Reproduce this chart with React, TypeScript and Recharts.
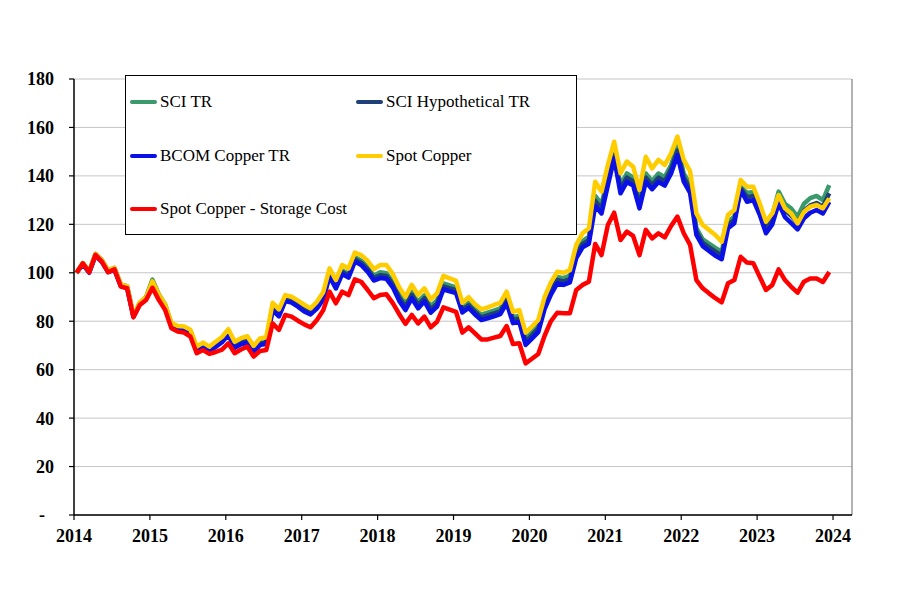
import React from 'react';
import { LineChart, Line, XAxis, YAxis, CartesianGrid, Legend, ReferenceLine } from 'recharts';

const startYear = 2014;
const yearTicks = [2014, 2015, 2016, 2017, 2018, 2019, 2020, 2021, 2022, 2023, 2024];
const valueTicks = [0, 20, 40, 60, 80, 100, 120, 140, 160, 180];

const seriesNames = ['SCI TR', 'SCI Hypothetical TR', 'BCOM Copper TR', 'Spot Copper', 'Spot Copper - Storage Cost'];
const seriesColors = ['#3a9a6c', '#1f3f78', '#0a10e6', '#ffcc00', '#ff0000'];

const spotCopper = [
  100, 104, 100.5, 107.8, 105.2, 101, 102, 95.2, 94.5, 82.5, 87.8, 90,
  96.5, 91, 87, 79.3, 78, 77.8, 76.5, 69.5, 71.2, 69.5, 71.5, 73.5,
  76.7, 71.5, 73, 73.8, 69.8, 72.9, 73.4, 87.6, 84.9, 90.8, 90.1, 88.5,
  86.8, 85.3, 88, 92, 101.8, 97, 103.2, 101.8, 108.3, 107.3, 105, 101.5,
  103.2, 103.2, 99.5, 94, 90.1, 95, 90.8, 93.6, 89, 91.5, 98.7, 97.7,
  96.7, 87.6, 89.9, 87, 84.9, 85.7, 86.7, 87.6, 92.2, 83.9, 84.6, 75.3,
  77.8, 80.5, 90, 96, 100.4, 100, 101.1, 111.5, 116.3, 118.4, 137.6, 133.5,
  144.5, 154.1, 141.1, 145.9, 143.8, 134.2, 147.9, 143.1, 146.6, 144.5, 149.3, 156.2,
  146.6, 142, 124.5, 119.7, 117.7, 115.6, 112.8, 123.9, 125.9, 138.3, 135.5, 135.5,
  128.7, 121.1, 124.5, 132.1, 126.6, 124.5, 120.4, 125.2, 127.3, 128, 126.6, 130.7,
];

const spotStorage = [
  100, 103.9, 100.2, 107.4, 104.6, 100.2, 101.4, 94.3, 93.6, 81.6, 86.7, 88.8,
  93.8, 88.8, 84.7, 77.1, 75.7, 75.3, 73.7, 66.8, 68.1, 66.5, 67.3, 68.3,
  70.9, 66.8, 68.3, 69.5, 65.4, 67.7, 68.1, 79.1, 76.4, 82.6, 81.9, 80.2,
  78.7, 77.5, 80.5, 84.5, 92.2, 87.4, 92.2, 90.8, 97.3, 96.3, 93, 89.5,
  90.8, 91.1, 87.5, 83, 78.9, 82.6, 79.1, 81.9, 77.5, 79.8, 85.7, 84.8,
  83.9, 75.3, 77.5, 75, 72.5, 72.5, 73.2, 73.9, 78, 70.6, 70.9, 62.6,
  64.5, 66.5, 74, 80, 83.5, 83.3, 83.3, 92.9, 95, 96.3, 111.9, 107.3,
  119.7, 124.8, 113.5, 117, 115.2, 107.3, 117.7, 114.2, 116.3, 114.6, 119.3, 123.2,
  116.3, 111.5, 97, 93.6, 91.5, 89.5, 87.8, 95.7, 97, 106.6, 104.2, 103.9,
  98.4, 92.9, 95, 101.4, 97, 94.2, 91.8, 96.3, 97.6, 97.6, 96.2, 100.3,
];

const bcomCopper = [
  100, 103.5, 100, 107, 104.5, 100.3, 101.2, 94.5, 93.7, 81.8, 87, 89.2,
  95.3, 89.8, 85.7, 78, 76.6, 76.3, 74.8, 67.8, 69.3, 67.6, 69.4, 71.3,
  74.3, 69, 70.5, 71.2, 67.2, 70.2, 70.7, 84.5, 82, 88.3, 87.7, 86,
  84, 82.8, 85.2, 89, 98.5, 93.5, 99.5, 98, 104.6, 103.2, 100.5, 96.8,
  97.8, 97.5, 94, 88.5, 84.6, 89.5, 85.3, 88.2, 83.5, 86, 93.2, 92.3,
  91.6, 83.6, 85.5, 82.8, 80.5, 81.2, 82, 82.9, 87.5, 79.2, 79.7, 70.2,
  72.8, 75.5, 85, 91, 95.6, 95, 96, 106, 110.5, 112, 127.6, 124.5,
  136, 147.3, 132.8, 137.5, 136, 126.6, 137.6, 134.5, 137.5, 136, 141, 148.6,
  137.6, 133, 115.6, 111, 109, 107, 105.6, 118.4, 120.5, 134.2, 129.3, 130,
  124, 116.3, 120, 128.7, 123, 120.5, 117.9, 122.5, 124.8, 125.9, 124.5, 129.3,
];

const sciTR = [
  100, 104, 100.5, 107.8, 105.3, 101, 102, 95.2, 94.5, 82.3, 87.6, 90,
  97.2, 91.2, 87, 79, 77.6, 77.2, 76, 69, 70.6, 69, 70.8, 72.6,
  75.6, 70.3, 71.8, 72.5, 68.6, 71.6, 72, 86, 83.4, 89.4, 88.8, 87.1,
  85.2, 83.8, 86.3, 90.3, 99.9, 95, 101, 99.5, 106.5, 105, 102.4, 98.8,
  100.2, 99.8, 96.3, 91, 87.4, 92.2, 88, 90.7, 86.2, 88.6, 95.6, 94.8,
  94, 85.6, 87.6, 84.8, 82.7, 83.5, 84.4, 85.3, 89.8, 81.6, 82.3, 73,
  75.6, 78.4, 87.8, 93.8, 98.3, 97.8, 98.8, 108.7, 113, 115, 131.7, 128.3,
  139.5, 150, 136.2, 141, 139.3, 129.3, 141, 137.8, 141, 139.5, 144.5, 152.3,
  141, 136.5, 118.4, 113.8, 112, 110.3, 108.7, 121, 123.3, 135.5, 133, 133.3,
  127.5, 119.7, 123.5, 133.5, 128.5, 126.5, 123.1, 128.5, 130.8, 131.7, 130, 136.2,
];

const sciHypo = [
  100, 103.8, 100.3, 107.4, 104.9, 100.7, 101.6, 94.9, 94.1, 82, 87.3, 89.6,
  96.3, 90.5, 86.4, 78.5, 77.1, 76.8, 75.4, 68.4, 70, 68.3, 70.1, 72,
  75, 69.7, 71.2, 71.9, 67.9, 70.9, 71.4, 85.3, 82.7, 88.9, 88.3, 86.6,
  84.6, 83.3, 85.8, 89.7, 99.2, 94.3, 100.3, 98.8, 105.6, 104.1, 101.5, 97.8,
  99, 98.7, 95.2, 89.8, 86, 90.9, 86.7, 89.5, 84.9, 87.3, 94.4, 93.6,
  92.8, 84.6, 86.6, 83.8, 81.6, 82.4, 83.2, 84.1, 88.7, 80.4, 81, 71.6,
  74.2, 77, 86.4, 92.4, 97, 96.4, 97.4, 107.4, 111.8, 113.5, 129.7, 126.4,
  137.8, 148.7, 134.5, 139.3, 137.7, 128, 139.3, 136.2, 139.3, 137.8, 142.8, 150.5,
  139.3, 134.8, 117, 112.4, 110.5, 108.7, 107.2, 119.7, 121.9, 134.9, 131.2, 131.7,
  125.8, 118, 121.8, 131.1, 125.8, 123.5, 120.5, 125.5, 127.8, 128.8, 127.3, 132.8,
];

const data = spotCopper.map((_, i) => ({
  t: startYear + (i + 0.4) / 12,
  sci: sciTR[i],
  hypo: sciHypo[i],
  bcom: bcomCopper[i],
  spot: spotCopper[i],
  storage: spotStorage[i],
}));

const keys = ['sci', 'hypo', 'bcom', 'spot', 'storage'];
const FONT = '"Liberation Serif", "Times New Roman", serif';

const YTick = (props: any) => {
  const { x, y, payload } = props;
  const zero = payload.value === 0;
  return (
    <text x={zero ? x - 9 : x} y={y} dy="0.355em" textAnchor="end" fontFamily={FONT} fontWeight="bold" fontSize={18} fill="#000">
      {zero ? '-' : String(payload.value)}
    </text>
  );
};

const XTick = (props: any) => {
  const { x, y, payload } = props;
  return (
    <text x={x} y={y} dy="0.71em" textAnchor="middle" fontFamily={FONT} fontWeight="bold" fontSize={18} fill="#000">
      {String(payload.value)}
    </text>
  );
};

const LegendBox = () => {
  const item = (i: number, left: number, top: number) => (
    <div key={i} style={{ position: 'absolute', left, top, height: 20, display: 'flex', alignItems: 'center' }}>
      <div style={{ width: 27, height: 4, borderRadius: 2, background: seriesColors[i], marginRight: 3 }} />
      <span style={{ fontFamily: FONT, fontSize: 17, color: '#000', whiteSpace: 'nowrap', lineHeight: '20px' }}>{seriesNames[i]}</span>
    </div>
  );
  return (
    <div style={{ position: 'relative', width: 452, height: 160, border: '1px solid #000', background: '#fff', boxSizing: 'border-box' }}>
      {item(0, 4, 16)}
      {item(1, 230, 16)}
      {item(2, 4, 70)}
      {item(3, 230, 70)}
      {item(4, 4, 123)}
    </div>
  );
};

export default function App() {
  return (
    <div style={{ position: 'absolute', left: 0, top: 0, width: 900, height: 611, background: '#fff' }}>
      <LineChart width={900} height={611} data={data} margin={{ top: 79, right: 48, bottom: 66, left: 0 }}>
        <CartesianGrid horizontal={true} vertical={false} stroke="#c6c6c6" strokeWidth={1} />
        <XAxis
          dataKey="t"
          type="number"
          domain={[2014, 2024.25]}
          ticks={yearTicks}
          allowDataOverflow
          height={30}
          tickSize={5}
          tickMargin={9}
          tick={<XTick />}
          axisLine={{ stroke: '#000', strokeWidth: 1.5 }}
          tickLine={{ stroke: '#000', strokeWidth: 1.2 }}
        />
        <YAxis
          type="number"
          domain={[0, 180]}
          ticks={valueTicks}
          width={74}
          tickSize={5}
          tickMargin={15}
          tick={<YTick />}
          axisLine={{ stroke: '#000', strokeWidth: 1.5 }}
          tickLine={{ stroke: '#000', strokeWidth: 1.2 }}
        />
        <ReferenceLine x={2024.25} stroke="#999" strokeWidth={1.5} />
        <Legend
          layout="horizontal"
          verticalAlign="middle"
          align="center"
          content={<LegendBox />}
          wrapperStyle={{ left: 125, top: 75, width: 452, height: 160 }}
        />
        {keys.map((k, i) => (
          <Line
            key={k}
            type="linear"
            dataKey={k}
            name={seriesNames[i]}
            stroke={seriesColors[i]}
            strokeWidth={4.5}
            dot={false}
            activeDot={false}
            strokeLinejoin="round"
            isAnimationActive={false}
          />
        ))}
      </LineChart>
    </div>
  );
}
